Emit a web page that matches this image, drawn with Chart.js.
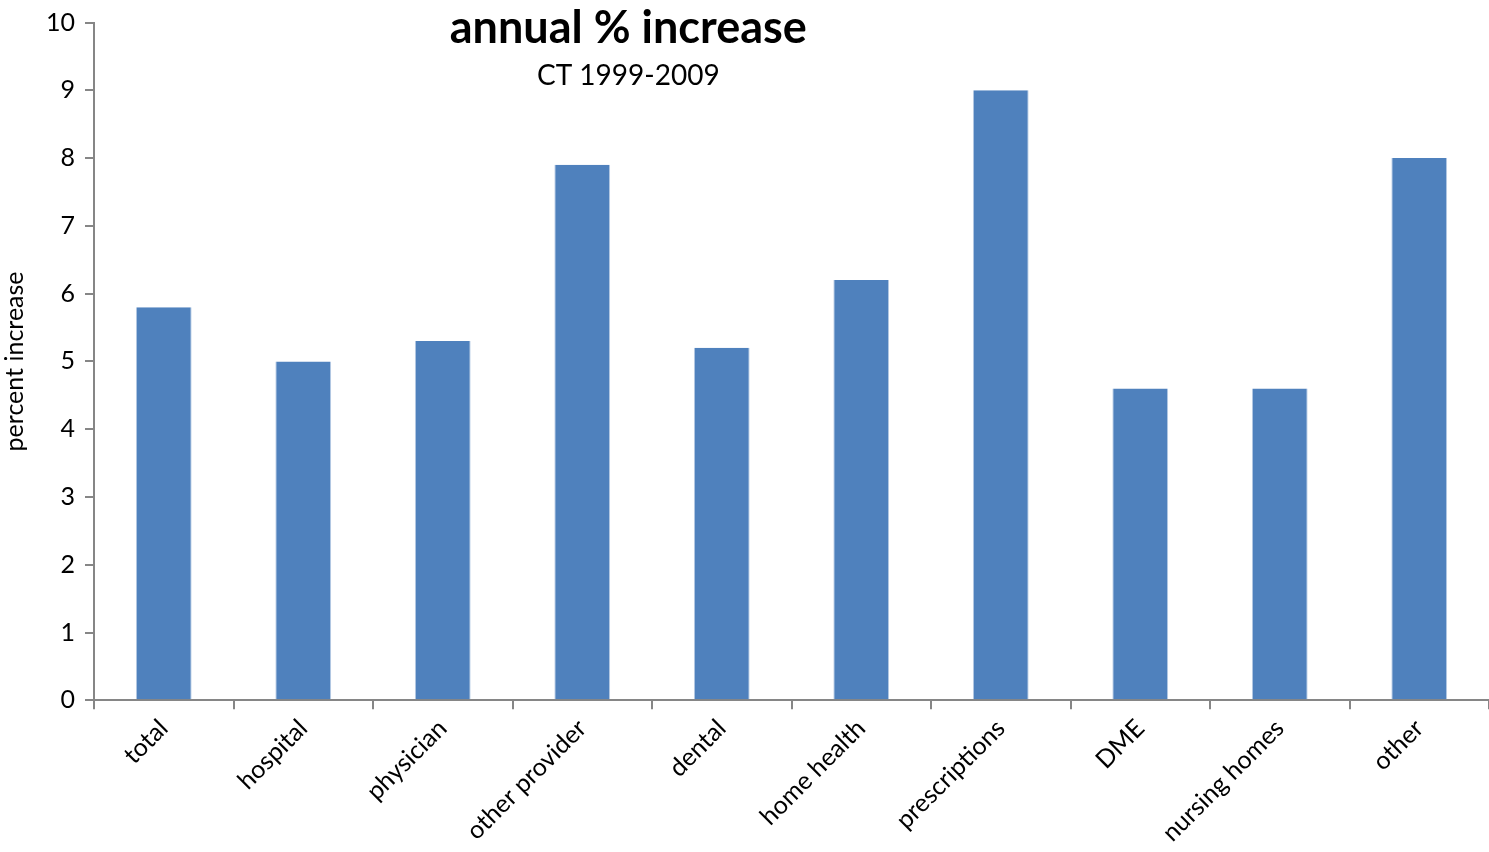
<!DOCTYPE html>
<html>
<head>
<meta charset="utf-8">
<script src="https://cdn.jsdelivr.net/npm/chart.js@4/dist/chart.umd.min.js"></script>
<style>
  html, body { margin:0; padding:0; background:#fff; }
  #wrap { width:1489px; height:852px; position:relative; }
</style>
</head>
<body>
<div id="wrap"><canvas id="chart"></canvas></div>
<script>
const categories = ['total','hospital','physician','other provider','dental','home health','prescriptions','DME','nursing homes','other'];
const increases = [5.8, 5.0, 5.3, 7.9, 5.2, 6.2, 9.0, 4.6, 4.6, 8.0];
const titleText = 'annual % increase';
const subtitleText = 'CT 1999-2009';
const yTitle = 'percent increase';

const FONT = 'Lato, "Open Sans", "Liberation Sans", sans-serif';
const AXIS = '#868686';

// title sits inside the plot, over the bars
const innerTitle = {
  id:'innerTitle',
  afterDraw(chart){
    const {ctx, chartArea} = chart;
    const cx = chartArea.left + (chartArea.right - chartArea.left) * 0.383;
    ctx.save();
    ctx.fillStyle = '#000';
    ctx.textAlign = 'center';
    ctx.textBaseline = 'alphabetic';
    ctx.font = 'bold 45px ' + FONT;
    ctx.fillText(titleText, cx, 43);
    ctx.font = '28px ' + FONT;
    ctx.fillText(subtitleText, cx, 85);
    ctx.restore();
  }
};

new Chart(document.getElementById('chart'), {
  type:'bar',
  data:{
    labels:categories,
    datasets:[{
      data:increases,
      backgroundColor:'#4f81bd',
      borderColor:'#b8cce4',
      borderWidth:{left:1, right:1, top:0, bottom:0},
      barPercentage:0.4,
      categoryPercentage:1
    }]
  },
  options:{
    responsive:true,
    maintainAspectRatio:false,
    animation:false,
    layout:{padding:{top:0, right:0, left:0, bottom:0}},
    plugins:{legend:{display:false}, tooltip:{enabled:false}, title:{display:false}},
    scales:{
      x:{
        offset:true,
        border:{color:AXIS, width:2},
        grid:{display:true, drawOnChartArea:false, offset:true, tickLength:9, color:AXIS, lineWidth:2},
        ticks:{color:'#000', font:{family:FONT, size:25, lineHeight:1}, minRotation:45, maxRotation:45, padding:6}
      },
      y:{
        min:0, max:10,
        border:{color:AXIS, width:2},
        grid:{display:true, drawOnChartArea:false, tickLength:9, color:AXIS, lineWidth:2},
        ticks:{stepSize:1, color:'#000', font:{family:FONT, size:25, lineHeight:1}, padding:10},
        title:{display:true, text:yTitle, color:'#000', font:{family:FONT, size:25}, padding:{top:0, bottom:6}}
      }
    }
  },
  plugins:[innerTitle]
});
</script>
</body>
</html>
